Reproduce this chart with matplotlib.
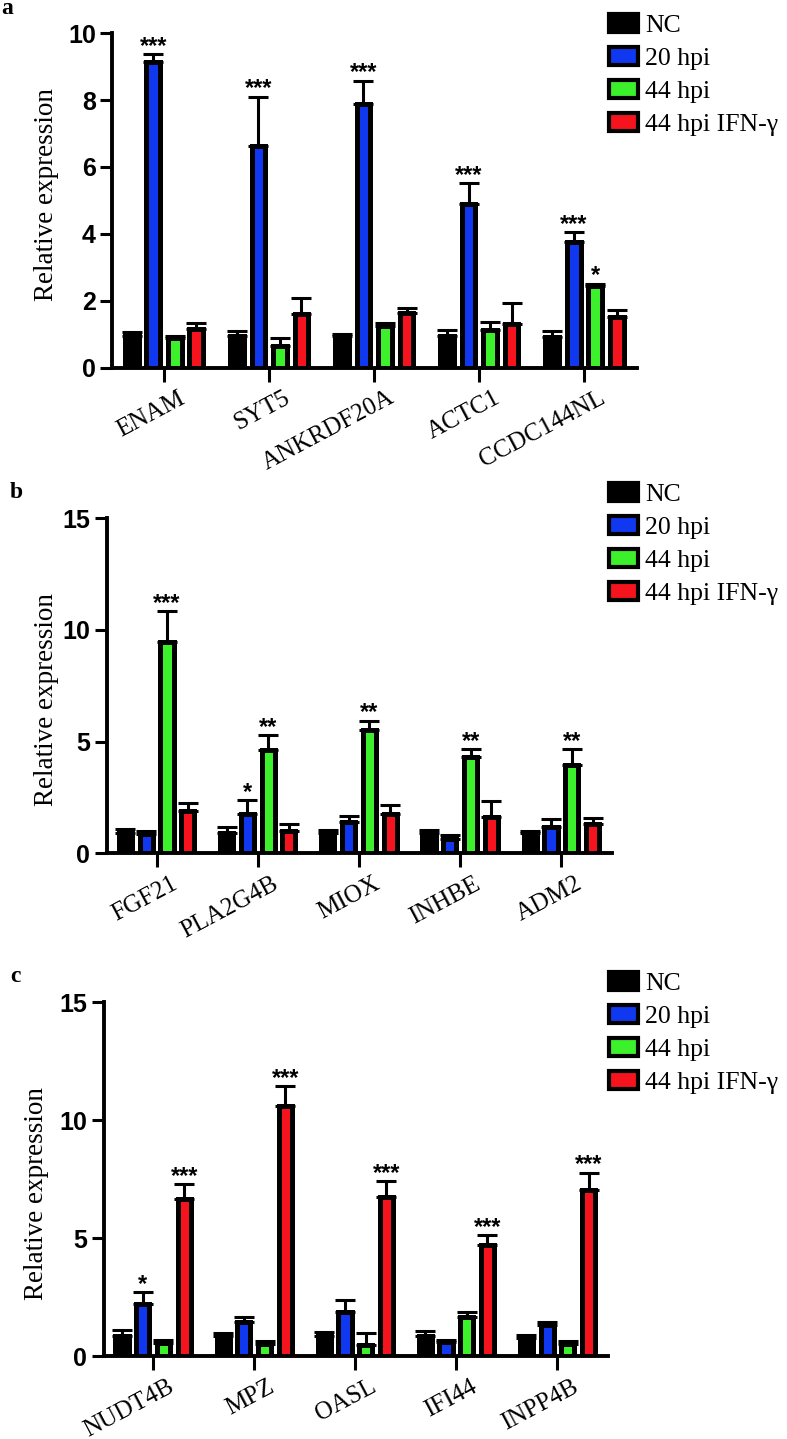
import matplotlib
matplotlib.use('Agg')
import matplotlib.pyplot as plt
import numpy as np
from matplotlib.patches import Patch

W, H, DPI = 787, 1439, 100

series = ['NC', '20 hpi', '44 hpi', '44 hpi IFN-γ']
colors = ['#000000', '#1038f0', '#3cf02c', '#f5141e']

# ---- panel a ----
genes_a = ['ENAM', 'SYT5', 'ANKRDF20A', 'ACTC1', 'CCDC144NL']
a_nc = [0.95, 0.95, 0.95, 0.95, 0.92]
a_nc_top = [1.06, 1.09, 1.01, 1.11, 1.09]
a_20 = [9.15, 6.62, 7.89, 4.88, 3.76]
a_20_top = [9.37, 8.10, 8.58, 5.51, 4.04]
a_44 = [0.87, 0.65, 1.24, 1.11, 2.45]
a_44_top = [0.94, 0.89, 1.34, 1.36, 2.51]
a_ifn = [1.14, 1.59, 1.62, 1.29, 1.50]
a_ifn_top = [1.33, 2.09, 1.78, 1.94, 1.72]
a_sig = [['', '', '', '', ''], ['***', '***', '***', '***', '***'],
         ['', '', '', '', '*'], ['', '', '', '', '']]
a_yticks = [0, 2, 4, 6, 8, 10]

# ---- panel b ----
genes_b = ['FGF21', 'PLA2G4B', 'MIOX', 'INHBE', 'ADM2']
b_nc = [0.90, 0.90, 0.90, 0.90, 0.91]
b_nc_top = [1.11, 1.18, 1.03, 1.06, 1.01]
b_20 = [0.86, 1.77, 1.42, 0.65, 1.17]
b_20_top = [1.00, 2.39, 1.66, 0.83, 1.54]
b_44 = [9.45, 4.63, 5.53, 4.33, 3.94]
b_44_top = [10.83, 5.29, 5.93, 4.65, 4.66]
b_ifn = [1.90, 1.02, 1.75, 1.62, 1.32]
b_ifn_top = [2.24, 1.33, 2.17, 2.35, 1.56]
b_sig = [['', '', '', '', ''], ['', '*', '', '', ''],
         ['***', '**', '**', '**', '**'], ['', '', '', '', '']]
b_yticks = [0, 5, 10, 15]

# ---- panel c ----
genes_c = ['NUDT4B', 'MPZ', 'OASL', 'IFI44', 'INPP4B']
c_nc = [0.86, 0.86, 0.86, 0.86, 0.78]
c_nc_top = [1.10, 0.98, 1.02, 1.06, 0.90]
c_20 = [2.20, 1.45, 1.85, 0.61, 1.33]
c_20_top = [2.71, 1.67, 2.36, 0.68, 1.44]
c_44 = [0.54, 0.52, 0.47, 1.66, 0.49]
c_44_top = [0.66, 0.64, 0.98, 1.88, 0.62]
c_ifn = [6.67, 10.59, 6.74, 4.70, 7.03]
c_ifn_top = [7.29, 11.43, 7.41, 5.11, 7.76]
c_sig = [['', '', '', '', ''], ['*', '', '', '', ''],
         ['', '', '', '', ''], ['***', '***', '***', '***', '***']]
c_yticks = [0, 5, 10, 15]

SERIF = ['Liberation Serif', 'DejaVu Serif']
SANS = ['Liberation Sans', 'DejaVu Sans']

fig = plt.figure(figsize=(W / DPI, H / DPI), dpi=DPI)


def px(x, y):
    return x / W, 1 - y / H


def panel(rect_px, genes, vals, tops, sigs, ymax, yticks, letter, letter_xy,
          ylab_xy, leg_xy):
    l, t, r, b = rect_px
    ax = fig.add_axes([l / W, 1 - b / H, (r - l) / W, (b - t) / H])
    x = np.arange(len(genes))
    step = 0.205
    offs = [-1.5 * step, -0.5 * step, 0.5 * step, 1.5 * step]
    for s in range(4):
        v = np.array(vals[s])
        tp = np.array(tops[s])
        ax.errorbar(x + offs[s], v, yerr=[np.zeros_like(v), tp - v], fmt='none',
                    ecolor='black', elinewidth=2.2, capsize=7, capthick=2.2,
                    zorder=2)
        ax.bar(x + offs[s], v, width=0.13, color=colors[s], edgecolor='black',
               linewidth=3.6, zorder=3)
        for i, st in enumerate(sigs[s]):
            if st:
                ax.annotate(st, (x[i] + offs[s], tp[i]), xytext=(0, 1),
                            textcoords='offset points', ha='center',
                            va='baseline', fontsize=17, fontweight='bold',
                            family=SANS, annotation_clip=False)
    ax.set_xlim(-0.49, 4.5)
    ax.set_ylim(0, ymax)
    ax.set_yticks(yticks)
    ax.set_yticklabels([str(v) for v in yticks], fontsize=18,
                       fontweight='bold', family=SANS)
    ax.set_xticks(x)
    ax.set_xticklabels([])
    for i, g in enumerate(genes):
        ax.annotate(g, xy=(x[i], 0), xycoords=('data', 'axes fraction'),
                    xytext=(10, -14), textcoords='offset points', rotation=28,
                    ha='right', va='top', rotation_mode='anchor', fontsize=18,
                    family=SERIF, annotation_clip=False)
    for sp in ['top', 'right']:
        ax.spines[sp].set_visible(False)
    for sp in ['left', 'bottom']:
        ax.spines[sp].set_linewidth(2.8)
    ax.tick_params(axis='y', length=9, width=2.2, pad=3)
    ax.tick_params(axis='x', length=10, width=2.2, pad=3)
    fig.text(*px(*letter_xy), letter, fontsize=17, fontweight='bold',
             family=SERIF, ha='center', va='center')
    fig.text(*px(*ylab_xy), 'Relative expression', fontsize=19.5, family=SERIF,
             rotation=90, ha='center', va='center')
    handles = [Patch(facecolor=c, edgecolor='black', linewidth=3.0)
               for c in colors]
    fig.legend(handles, series, loc='upper left', bbox_to_anchor=px(*leg_xy),
               bbox_transform=fig.transFigure, frameon=False, borderpad=0,
               borderaxespad=0, prop={'family': SERIF, 'size': 18.5},
               handlelength=1.12, handleheight=0.68, labelspacing=0.4,
               handletextpad=0.3)
    return ax


panel((112.5, 33.3, 637, 367.5), genes_a, [a_nc, a_20, a_44, a_ifn],
      [a_nc_top, a_20_top, a_44_top, a_ifn_top], a_sig, 10, a_yticks,
      'a', (7, 9), (47, 195), (609, 14))
panel((107, 518.3, 612, 853.3), genes_b, [b_nc, b_20, b_44, b_ifn],
      [b_nc_top, b_20_top, b_44_top, b_ifn_top], b_sig, 15, b_yticks,
      'b', (16, 492), (47, 700), (609, 483))
panel((103.6, 1002, 608, 1356), genes_c, [c_nc, c_20, c_44, c_ifn],
      [c_nc_top, c_20_top, c_44_top, c_ifn_top], c_sig, 15, c_yticks,
      'c', (15, 976), (37, 1194), (609, 972))

fig.savefig('out.png', dpi=DPI)
